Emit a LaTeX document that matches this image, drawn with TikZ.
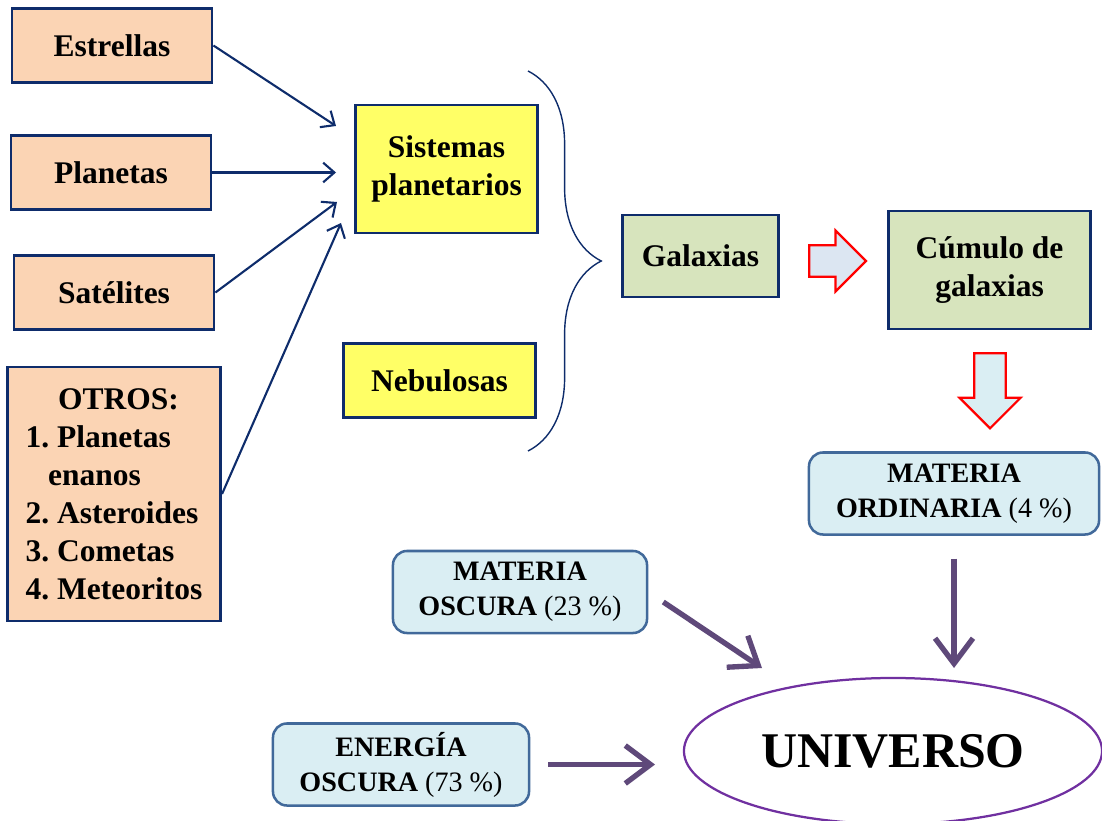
\documentclass[tikz,border=0pt]{standalone}
\usepackage{fontspec}
\setmainfont{Liberation Serif}
\usepackage{xcolor}
\usepackage{tikz}
\usetikzlibrary{arrows.meta,shapes.geometric,shapes.arrows,decorations.pathreplacing}

\definecolor{navyline}{HTML}{0E2C6B}
\definecolor{peach}{HTML}{FBD4B4}
\definecolor{lemon}{HTML}{FFFF66}
\definecolor{olivegreen}{HTML}{D7E4BD}
\definecolor{paleblue}{HTML}{DAEEF3}
\definecolor{steelline}{HTML}{41699A}
\definecolor{lavender}{HTML}{DCE6F2}
\definecolor{arrowpurple}{HTML}{5F497A}
\definecolor{violetline}{HTML}{7030A0}
\frenchspacing

\begin{document}
\begin{tikzpicture}[x=0.025cm, y=-0.025cm,
    bigtext/.style={font=\fontsize{22.4}{27}\selectfont\bfseries},
    smalltext/.style={font=\fontsize{20}{24.8}\selectfont\bfseries},
    navyarrow/.style={navyline, line width=1.5pt, -{Straight Barb[length=8pt,width=14pt]}},
    purplearrow/.style={arrowpurple, line width=3.8pt, -{Straight Barb[length=18pt,width=27pt]}},
    blockarrow/.style={single arrow, draw=red, line width=1.6pt, inner sep=0pt, single arrow head extend=0.37cm}]
\useasboundingbox (0,0) rectangle (1102,820);

	% cuerpos
	\begin{scope}[every node/.style={draw=navyline, line width=2pt, fill=peach, bigtext, align=center, inner sep=0pt, minimum height=1.83cm, minimum width=5cm}]
	    \node (estr) at (112,45.5) {Estrellas};
	    \node (plan) at (111,172.5) {Planetas};
	    \node (sat) at (114,292.5) {Satélites};
	    \node[minimum width=5.33cm, minimum height=6.35cm, align=left] (otros) at (114,494)
	        {\hspace*{23pt}OTROS:\\1. Planetas\\\hspace*{16pt}enanos\\2. Asteroides\\3. Cometas\\4. Meteoritos};
	\end{scope}
	\begin{scope}[every node/.style={draw=navyline, line width=2pt, fill=lemon, bigtext, align=center, inner sep=0pt, minimum height=1.83cm}]
	    \node[minimum width=4.53cm, minimum height=3.2cm] (sist) at (446.5,169) {Sistemas\\planetarios};
	    \node[minimum width=4.78cm] (nebu) at (439.5,380.5) {Nebulosas};
	\end{scope}
	\begin{scope}[every node/.style={draw=navyline, line width=2pt, fill=olivegreen, bigtext, align=center, inner sep=0pt}]
	    \node[minimum width=3.88cm, minimum height=2.05cm] (gala) at (700.5,256) {Galaxias};
	    \node[minimum width=5.03cm, minimum height=2.95cm] (cumu) at (989.5,270) {Cúmulo de\\galaxias};
	\end{scope}
	\begin{scope}[every node/.style={draw=steelline, line width=1.8pt, fill=paleblue, rounded corners=0.35cm, smalltext, align=center, inner sep=0pt, minimum height=2.05cm}]
	    \node[minimum width=7.25cm] (ordi) at (954,493.5) {MATERIA\\ORDINARIA {\mdseries(4 \%)}};
	    \node[minimum width=6.35cm] (mosc) at (520,592) {MATERIA\\OSCURA {\mdseries(23 \%)}};
	    \node[minimum width=6.4cm] (eosc) at (401,764.5) {ENERGÍA\\OSCURA {\mdseries(73 \%)}};
	\end{scope}
	\node[ellipse, draw=violetline, line width=1.6pt, minimum width=10.45cm, minimum height=3.65cm,
	      font=\fontsize{35.5}{40}\selectfont\bfseries] (univ) at (893,751) {UNIVERSO};

	\node[blockarrow, fill=lavender, inner ysep=0.365cm, minimum height=1.42cm, anchor=tail] (flecha1) at (808,261) {};
	\node[blockarrow, fill=paleblue, inner xsep=0.365cm, minimum height=1.88cm, shape border rotate=270, anchor=tail] (flecha2) at (990,352) {};

	\coordinate (in1) at (336,126);
	\coordinate (in2) at (336,172.5);
	\coordinate (in3) at (337,202);
	\coordinate (in4) at (341,223);
	\coordinate (u1) at (762,668);
	\coordinate (u2) at (954,668);
	\coordinate (u3) at (655,764.5);

	\path [navyarrow] (estr.east) edge (in1);
	\path [navyarrow] (plan.east) edge (in2);
	\path [navyarrow] (sat.east) edge (in3);
	\path [navyarrow] (otros.east) edge (in4);

	\draw [navyline, line width=1pt, decorate, decoration={brace, amplitude=1.83cm}] (528,71) -- (528,451);

	\path [purplearrow, shorten <=0.45cm] (mosc.east) edge (u1);
	\path [purplearrow, shorten <=0.57cm] (ordi.south) edge (u2);
	\path [purplearrow, shorten <=0.45cm] (eosc.east) edge (u3);

\end{tikzpicture}
\end{document}
